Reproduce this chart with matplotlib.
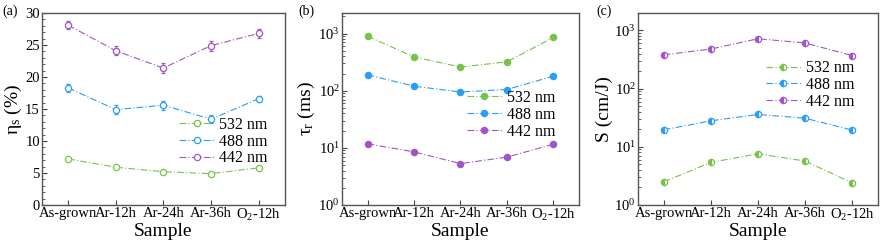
import matplotlib
matplotlib.use("Agg")
import matplotlib.pyplot as plt
import numpy as np
from matplotlib.ticker import LogLocator, NullFormatter, AutoMinorLocator

plt.rcParams['font.family'] = ['Liberation Serif', 'DejaVu Serif']
plt.rcParams['mathtext.fontset'] = 'custom'
plt.rcParams['mathtext.rm'] = 'Liberation Serif'
plt.rcParams['mathtext.it'] = 'Liberation Serif:italic'

samples = ['As-grown', 'Ar-12h', 'Ar-24h', 'Ar-36h', 'O$_2$-12h']
wavelengths = ['532 nm', '488 nm', '442 nm']
colors = ['#78c24a', '#2a9df4', '#a155c6']

# (a) eta_s (%)
eta_532 = [7.2, 5.9, 5.2, 4.9, 5.8]
eta_488 = [18.3, 14.9, 15.6, 13.4, 16.6]
eta_442 = [28.1, 24.1, 21.4, 24.9, 26.8]
eta_err_532 = [0.2, 0.2, 0.2, 0.2, 0.2]
eta_err_488 = [0.6, 0.7, 0.7, 0.6, 0.5]
eta_err_442 = [0.6, 0.7, 0.8, 0.8, 0.7]

# (b) tau_r (ms)
tau_532 = [900, 390, 260, 320, 860]
tau_488 = [190, 120, 95, 105, 180]
tau_442 = [11.8, 8.5, 5.3, 6.9, 11.6]

# (c) S (cm/J)
s_532 = [2.5, 5.4, 7.6, 5.7, 2.4]
s_488 = [19.6, 28, 36, 31, 19.4]
s_442 = [380, 480, 720, 610, 370]

x = np.arange(len(samples))

fig = plt.figure(figsize=(8.86, 2.5), dpi=100)
ax_a = fig.add_axes([0.0474, 0.18, 0.274, 0.768])
ax_b = fig.add_axes([0.386, 0.18, 0.2675, 0.768])
ax_c = fig.add_axes([0.720, 0.18, 0.271, 0.768])

line_kw = dict(ls=(0, (6, 2, 1, 2)), lw=0.8, ms=4.5, mew=0.9)

# panel a: open circles with error bars
for vals, errs, c, lab in zip([eta_532, eta_488, eta_442],
                              [eta_err_532, eta_err_488, eta_err_442],
                              colors, wavelengths):
    ax_a.errorbar(x, vals, yerr=errs, fmt='none', ecolor=c,
                  capsize=1.5, elinewidth=0.9, capthick=0.9)
    ax_a.plot(x, vals, color=c, marker='o', mfc='white', label=lab, **line_kw)
ax_a.set_ylim(0, 30)
ax_a.set_yticks([0, 5, 10, 15, 20, 25, 30])
ax_a.yaxis.set_minor_locator(AutoMinorLocator(5))
ax_a.set_ylabel('η$_\\mathrm{s}$ (%)', fontsize=14, labelpad=1)

# panel b: filled circles
for vals, c, lab in zip([tau_532, tau_488, tau_442], colors, wavelengths):
    ax_b.plot(x, vals, color=c, marker='o', label=lab, **line_kw)
ax_b.set_yscale('log')
ax_b.set_ylim(1, 10 ** 3.36)
ax_b.set_ylabel('τ$_\\mathrm{r}$ (ms)', fontsize=14, labelpad=1)

# panel c: half-filled circles
for vals, c, lab in zip([s_532, s_488, s_442], colors, wavelengths):
    ax_c.plot(x, vals, color=c, marker='o', fillstyle='left',
              markerfacecoloralt='white', label=lab, **line_kw)
ax_c.set_yscale('log')
ax_c.set_ylim(1, 10 ** 3.3)
ax_c.set_ylabel('S (cm/J)', fontsize=14, labelpad=1)

for ax in (ax_b, ax_c):
    ax.yaxis.set_major_locator(LogLocator(base=10, numticks=10))
    ax.yaxis.set_minor_locator(LogLocator(base=10, subs=np.arange(2, 10), numticks=10))
    ax.yaxis.set_minor_formatter(NullFormatter())

for ax in (ax_a, ax_b, ax_c):
    ax.set_xlim(-0.55, 4.55)
    ax.set_xticks(x)
    ax.set_xticklabels(samples)
    ax.set_xlabel('Sample', fontsize=14, labelpad=0)
    ax.tick_params(axis='both', which='major', direction='in', labelsize=10.5,
                   length=3.5, width=0.8, color='#444444', pad=1.5)
    ax.tick_params(axis='y', which='minor', direction='in', length=2, width=0.6,
                   color='#444444')
    ax.tick_params(axis='x', which='minor', bottom=False)
    for sp in ax.spines.values():
        sp.set_color('#555555')
        sp.set_linewidth(1.0)

leg_kw = dict(frameon=False, fontsize=11.5, handlelength=2.2, handletextpad=0.3,
              labelspacing=0.05, borderpad=0.1)
ax_a.legend(loc='center right', bbox_to_anchor=(0.97, 0.33), **leg_kw)
ax_b.legend(loc='center right', bbox_to_anchor=(0.94, 0.47), **leg_kw)
ax_c.legend(loc='center right', bbox_to_anchor=(0.94, 0.625), **leg_kw)

fig.text(0.003, 0.955, '(a)', fontsize=10, va='center')
fig.text(0.337, 0.955, '(b)', fontsize=10, va='center')
fig.text(0.673, 0.955, '(c)', fontsize=10, va='center')

fig.savefig('out.png', dpi=100)
